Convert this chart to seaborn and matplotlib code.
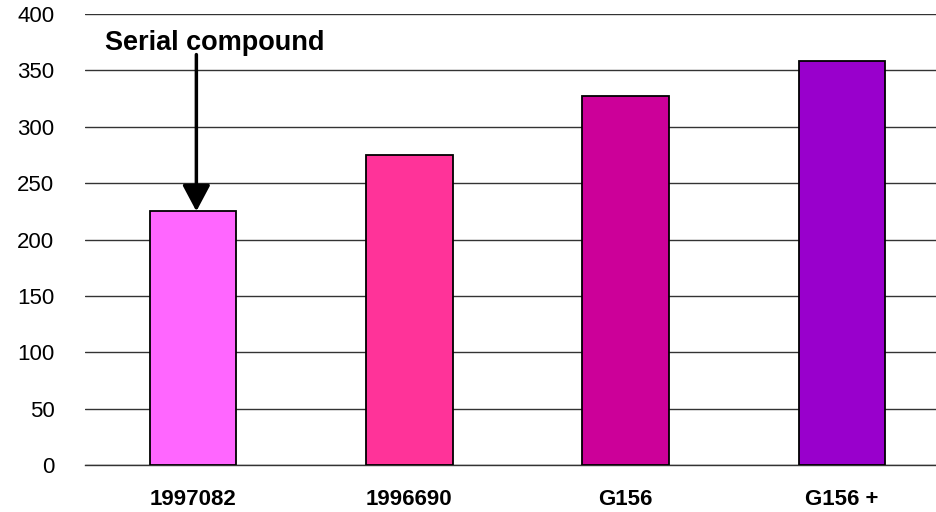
import matplotlib
matplotlib.use('Agg')
import matplotlib.pyplot as plt
import seaborn as sns
import pandas as pd

# chart values
compounds = ['1997082', '1996690', 'G156', 'G156 +']
values = [225, 275, 327, 358]
bar_colors = ['#FF66FF', '#FF3399', '#CC0099', '#9900CC']
y_ticks = [0, 50, 100, 150, 200, 250, 300, 350, 400]

df = pd.DataFrame({'compound': compounds, 'value': values})

sns.set_style('white')
plt.rcParams['font.family'] = ['Liberation Sans', 'DejaVu Sans']
plt.rcParams['text.color'] = 'black'
plt.rcParams['xtick.color'] = 'black'
plt.rcParams['ytick.color'] = 'black'

fig = plt.figure(figsize=(9.37, 5.12), dpi=100)
ax = fig.add_axes([85 / 937, 1 - 465 / 512, 865 / 937, 451 / 512])

sns.barplot(data=df, x='compound', y='value', hue='compound', palette=bar_colors,
            legend=False, width=0.4, edgecolor='black', linewidth=1.3,
            saturation=1, ax=ax, zorder=3)

ax.set_xlim(-0.5, 3.5)
ax.set_ylim(0, 400)
ax.set_yticks(y_ticks)
ax.set_yticklabels([str(v) for v in y_ticks], fontsize=16)
ax.yaxis.grid(True, color='#333333', linewidth=1.0, zorder=0)
ax.set_axisbelow(True)
ax.tick_params(axis='y', length=4, width=1.0, color='#333333', pad=18)

# category labels at centres, tick marks at boundaries
ax.set_xticks(range(len(compounds)))
ax.set_xticklabels(compounds, fontsize=16, fontweight='bold')
ax.set_xticks([i - 0.5 for i in range(len(compounds) + 1)], minor=True)
ax.tick_params(axis='x', which='major', length=0, pad=17)
ax.tick_params(axis='x', which='minor', length=6, width=1, color='#333333', direction='out')

for s in ['top', 'right', 'left']:
    ax.spines[s].set_visible(False)
ax.spines['bottom'].set_color('#333333')
ax.spines['bottom'].set_linewidth(1.0)

ax.set_xlabel('')
ax.set_ylabel('')

# annotation
ax.text(-0.407, 374, 'Serial compound', fontsize=19.5, fontweight='bold',
        ha='left', va='center')
ax.annotate('', xy=(0.015, 225), xytext=(0.015, 364),
            arrowprops=dict(arrowstyle='-|>,head_width=0.85,head_length=1.6',
                            color='black', lw=2.5, shrinkA=0, shrinkB=0),
            zorder=5)

fig.savefig('out.png', dpi=100)
